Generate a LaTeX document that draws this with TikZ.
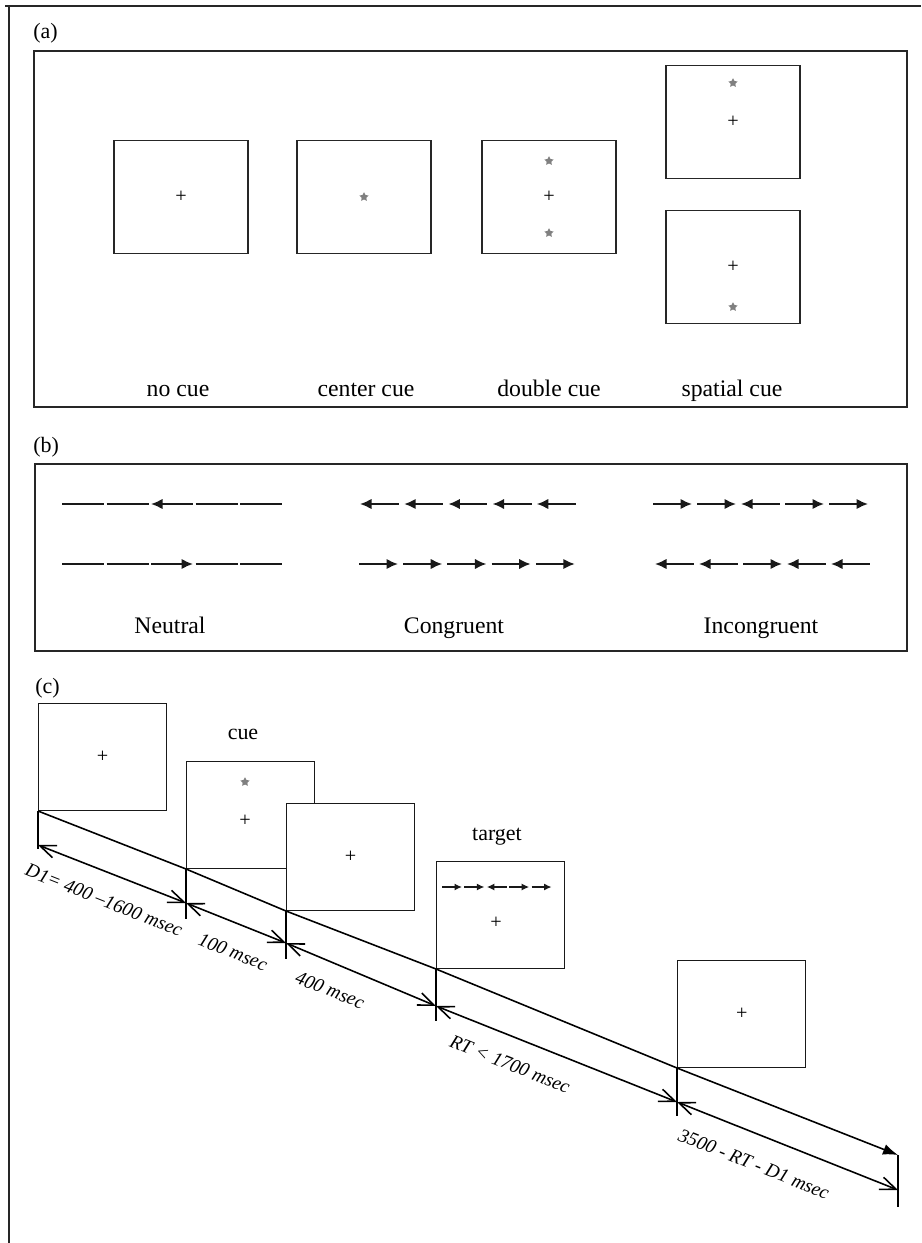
\documentclass[tikz,border=0pt]{standalone}
\usepackage{fontspec}
\setmainfont{Liberation Serif}
\usetikzlibrary{arrows.meta,positioning,shapes.geometric}
\tikzset
{
	screen/.style = {rectangle, draw=black!85, line width=0.9pt, minimum width=2.68cm, minimum height=2.26cm, inner sep=0pt},
	trialscreen/.style = {rectangle, draw=black!90, fill=white, line width=0.8pt, minimum width=2.56cm, minimum height=2.14cm, inner sep=0pt, anchor=south west},
	fixcross/.style = {inner sep=0pt, font=\fontsize{11.5}{11}\selectfont},
	cuestar/.style = {star, star points=5, star point ratio=1.9, fill=black!50, draw=none, inner sep=0pt, minimum size=0.19cm},
	panelname/.style = {anchor=west, inner sep=0pt, font=\fontsize{12.5}{14}\selectfont},
	condname/.style = {anchor=base, font=\fontsize{13.5}{16}\selectfont},
	eventname/.style = {anchor=base, font=\fontsize{12.5}{15}\selectfont},
	duration/.style = {rotate=-21.8, font=\fontsize{11}{13}\selectfont\itshape},
	frame/.style = {draw=black!85, line width=0.9pt},
	flanker/.style = {line width=1.1pt, black!90},
	leftflank/.style = {{Latex[length=0.23cm,width=0.21cm]}-},
	rightflank/.style = {-{Latex[length=0.23cm,width=0.21cm]}},
	noflank/.style = {-},
	smallflank/.style = {line width=0.8pt, black!90},
	smallleft/.style = {{Latex[length=0.15cm,width=0.14cm]}-},
	smallright/.style = {-{Latex[length=0.15cm,width=0.14cm]}},
	timeline/.style = {line width=0.9pt, -{Latex[length=0.3cm,width=0.22cm]}},
	interval/.style = {line width=0.9pt, {Straight Barb[length=0.32cm,width=0.26cm]}-{Straight Barb[length=0.32cm,width=0.26cm]}},
	marker/.style = {line width=0.9pt}
}

\begin{document}
\begin{tikzpicture}[x=0.02cm, y=-0.02cm]
\useasboundingbox (0,0) rectangle (921,1243);

% outer frame
\draw[frame] (5,6) -- (921,6);
\draw[frame] (9,6) -- (9,1243);

% (a) cue conditions
\node[panelname] (parta) at (33,33) {(a)};
\draw[frame] (34,51) rectangle (907,407);
\node[screen] (nocue) at (181,197) {};
\node[fixcross] (nocuefix) at (nocue.center) {+};
\node[screen] (centercue) at (364,197) {};
\node[cuestar] (centerstar) at (centercue.center) {};
\node[screen] (doublecue) at (549,197) {};
\node[fixcross] (doublefix) at (doublecue.center) {+};
\node[cuestar] (doubleup) at (549,161) {};
\node[cuestar] (doubledown) at (549,233) {};
\node[screen] (spatialup) at (733,122) {};
\node[cuestar] (spatialupstar) at (733,83) {};
\node[fixcross] (spatialupfix) at (spatialup.center) {+};
\node[screen] (spatialdown) at (733,267) {};
\node[fixcross] (spatialdownfix) at (spatialdown.center) {+};
\node[cuestar] (spatialdownstar) at (733,307) {};
\node[condname] (nocuename) at (178,396) {no cue};
\node[condname] (centername) at (366,396) {center cue};
\node[condname] (doublename) at (549,396) {double cue};
\node[condname] (spatialname) at (732,396) {spatial cue};

% (b) flanker conditions
\node[panelname] (partb) at (33,447) {(b)};
\draw[frame] (35,464) rectangle (907,651);
\foreach \s [count=\i from 0] in {noflank,noflank,leftflank,noflank,noflank}
  \draw[flanker,\s] (62+44.5*\i,504) -- ++(42,0);
\foreach \s [count=\i from 0] in {noflank,noflank,rightflank,noflank,noflank}
  \draw[flanker,\s] (62+44.5*\i,564) -- ++(42,0);
\foreach \s [count=\i from 0] in {leftflank,leftflank,leftflank,leftflank,leftflank}
  \draw[flanker,\s] (360+44.2*\i,504) -- ++(39,0);
\foreach \s [count=\i from 0] in {rightflank,rightflank,rightflank,rightflank,rightflank}
  \draw[flanker,\s] (359+44.2*\i,564) -- ++(39,0);
\foreach \s [count=\i from 0] in {rightflank,rightflank,leftflank,rightflank,rightflank}
  \draw[flanker,\s] (653+44*\i,504) -- ++(39,0);
\foreach \s [count=\i from 0] in {leftflank,leftflank,rightflank,leftflank,leftflank}
  \draw[flanker,\s] (655+44*\i,564) -- ++(39,0);
\node[condname] (neutralname) at (170,633) {Neutral};
\node[condname] (congname) at (454,633) {Congruent};
\node[condname] (incongname) at (761,633) {Incongruent};

% (c) trial sequence
\node[panelname] (partc) at (35,688) {(c)};
\node[trialscreen] (fixa) at (38,811) {};
\node[fixcross] (fixafix) at (fixa.center) {+};
\node[trialscreen] (cuescr) at (186,869) {};
\node[cuestar] (cuescrstar) at (245,782) {};
\node[fixcross] (cuescrfix) at (245,821) {+};
\node[trialscreen] (fixb) at (286,911) {};
\node[fixcross] (fixbfix) at (fixb.center) {+};
\node[trialscreen] (targ) at (436,969) {};
\node[fixcross] (targfix) at (496,923) {+};
\foreach \s [count=\i from 0] in {smallright,smallright,smallleft,smallright,smallright}
  \draw[smallflank,\s] (442+22.4*\i,887) -- ++(20,0);
\node[trialscreen] (fixc) at (677,1068) {};
\node[fixcross] (fixcfix) at (fixc.center) {+};
\node[eventname] (cuetext) at (243,739) {cue};
\node[eventname] (targettext) at (497,840) {target};

\coordinate (tend) at (898,1155);
\coordinate (d0) at (38,845);
\coordinate (d1) at (186,903);
\coordinate (d2) at (286,943);
\coordinate (d3) at (436,1006);
\coordinate (d4) at (677,1102);
\coordinate (d5) at (898,1190);

\draw[timeline] (fixa.south west) -- (cuescr.south west) -- (fixb.south west) -- (targ.south west) -- (fixc.south west) -- (tend);
\draw[marker] (fixa.south west) -- (d0) -- ++(0,4);
\draw[marker] (cuescr.south west) -- (d1) -- ++(0,16);
\draw[marker] (fixb.south west) -- (d2) -- ++(0,16);
\draw[marker] (targ.south west) -- (d3) -- ++(0,15);
\draw[marker] (fixc.south west) -- (d4) -- ++(0,14);
\draw[marker] (tend) -- (d5) -- ++(0,17);
\draw[interval] (d0) -- (d1);
\draw[interval] (d1) -- (d2);
\draw[interval] (d2) -- (d3);
\draw[interval] (d3) -- (d4);
\draw[interval] (d4) -- (d5);

\node[duration] (durdone) at (104,900) {D1= 400 –1600 msec};
\node[duration] (durcue) at (233,952) {100 msec};
\node[duration] (dursoa) at (330,990) {400 msec};
\node[duration] (durrt) at (510,1064) {RT < 1700 msec};
\node[duration] (durrest) at (754,1164) {3500 - RT - D1 msec};
\end{tikzpicture}
\end{document}
